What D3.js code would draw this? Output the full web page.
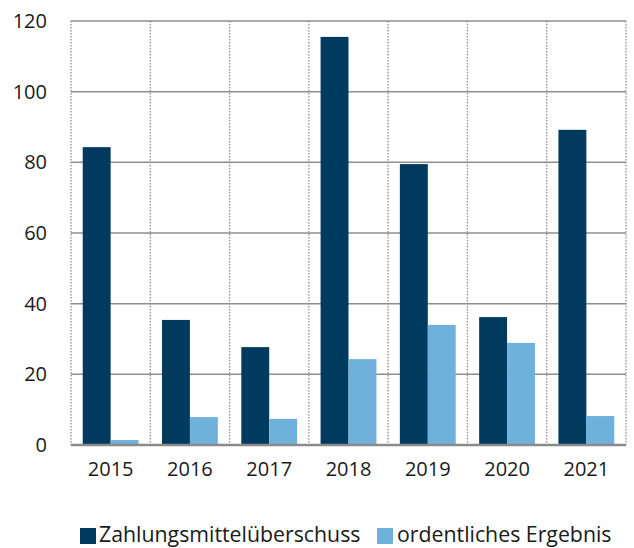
<!DOCTYPE html>
<html>
<head>
<meta charset="utf-8">
<script src="https://cdn.jsdelivr.net/npm/d3@7"></script>
<style>
  body { margin: 0; background: #fff; }
  text { font-family: "Open Sans", "Noto Sans", sans-serif; fill: #1a1a1a; }
</style>
</head>
<body>
<svg id="chart" width="634" height="548"></svg>
<script>
// data
var jahre = ['2015', '2016', '2017', '2018', '2019', '2020', '2021'];
var zahlungsmittel = [84.3, 35.4, 27.7, 115.5, 79.5, 36.2, 89.2];
var ergebnis = [1.4, 7.9, 7.4, 24.3, 34.0, 28.9, 8.2];
var serien = ['Zahlungsmittelüberschuss', 'ordentliches Ergebnis'];
var farben = ['#003a5e', '#70b1dc'];
var yTicks = [0, 20, 40, 60, 80, 100, 120];

var svg = d3.select('#chart');
var links = 71, rechts = 626, oben = 21, unten = 445;

var x = d3.scaleBand().domain(jahre).range([links, rechts]).paddingInner(0).paddingOuter(0);
var xi = d3.scaleBand().domain(serien).range([0, x.bandwidth()]).paddingInner(0).paddingOuter(0.42);
var y = d3.scaleLinear().domain([0, 120]).range([unten, oben]);

// horizontal grid
svg.append('g').selectAll('line').data(yTicks.slice(1)).enter().append('line')
  .attr('x1', links).attr('x2', rechts)
  .attr('y1', function(d){ return y(d); }).attr('y2', function(d){ return y(d); })
  .attr('stroke', '#8e8e8e').attr('stroke-width', 1.5);

// vertical dotted lines
var grenzen = jahre.map(function(j){ return x(j); }).concat([rechts]);
svg.append('g').selectAll('line').data(grenzen).enter().append('line')
  .attr('x1', function(d){ return d; }).attr('x2', function(d){ return d; })
  .attr('y1', oben).attr('y2', unten)
  .attr('stroke', '#8e8e8e').attr('stroke-width', 1.3).attr('stroke-dasharray', '1.5,1.5');

// bars
var reihen = [zahlungsmittel, ergebnis];
reihen.forEach(function(werte, k){
  svg.append('g').selectAll('rect').data(werte).enter().append('rect')
    .attr('x', function(d, i){ return x(jahre[i]) + xi(serien[k]); })
    .attr('width', xi.bandwidth())
    .attr('y', function(d){ return y(d); })
    .attr('height', function(d){ return y(0) - y(d); })
    .attr('fill', farben[k]);
});

// baseline
svg.append('line').attr('x1', links).attr('x2', rechts)
  .attr('y1', y(0)).attr('y2', y(0))
  .attr('stroke', '#8a8a8a').attr('stroke-width', 2.5);

// y axis labels
var yAxis = d3.axisLeft(y).tickValues(yTicks).tickSize(0).tickPadding(24);
var ga = svg.append('g').attr('transform', 'translate(' + links + ',0)').call(yAxis);
ga.select('.domain').remove();
ga.selectAll('text').style('font-size', '20px').attr('fill', '#1a1a1a')
  .style('font-family', '"Open Sans", "Noto Sans", sans-serif');

// x axis labels
var xAxis = d3.axisBottom(x).tickSize(0).tickPadding(17);
var gx = svg.append('g').attr('transform', 'translate(0,' + unten + ')').call(xAxis);
gx.select('.domain').remove();
gx.selectAll('text').style('font-size', '20px').attr('fill', '#1a1a1a')
  .style('font-family', '"Open Sans", "Noto Sans", sans-serif');

// legend
var leg = [{x: 80, t: 99}, {x: 377, t: 397}];
serien.forEach(function(s, k){
  svg.append('rect').attr('x', leg[k].x).attr('y', 528).attr('width', 16).attr('height', 16).attr('fill', farben[k]);
  svg.append('text').attr('x', leg[k].t).attr('y', 542).style('font-size', '21.3px').text(s);
});
</script>
</body>
</html>
